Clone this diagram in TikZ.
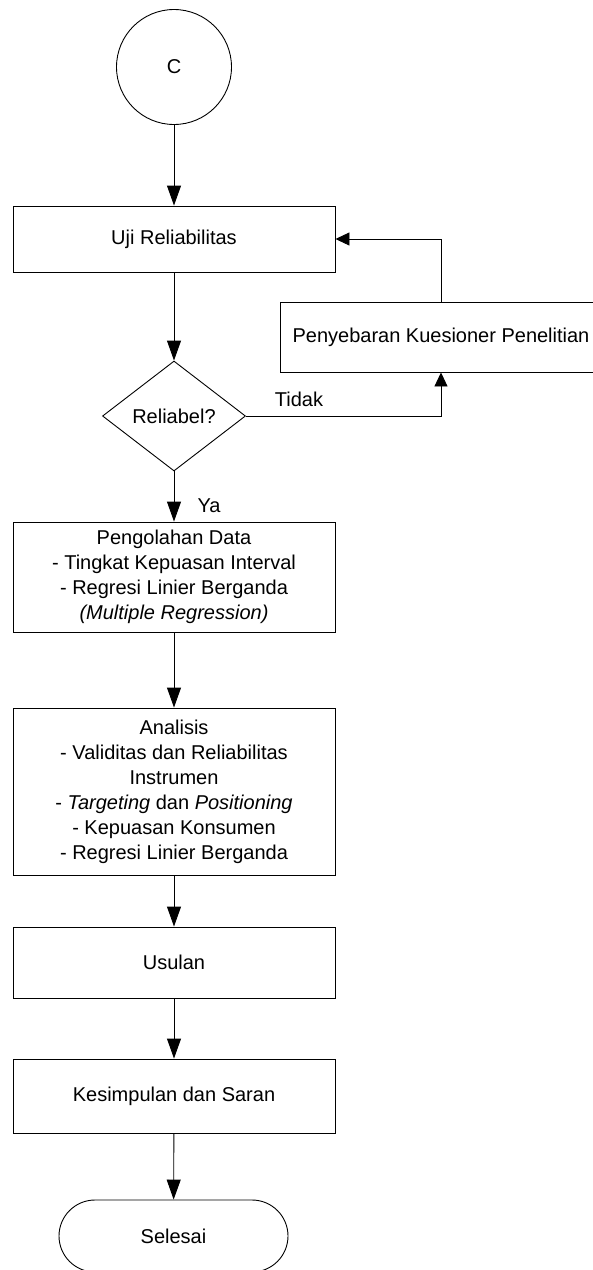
\documentclass[tikz,border=0pt]{standalone}
\usepackage{fontspec}
\setmainfont{Liberation Sans}
\usetikzlibrary{shapes.geometric,arrows.meta}

\begin{document}
\begin{tikzpicture}[
  x=1pt, y=-1pt,
  every node/.style={inner sep=1pt, font=\fontsize{20}{25}\selectfont},
  proc/.style={draw, line width=0.9pt, minimum width=322pt, align=center},
  decide/.style={diamond, draw, line width=0.9pt, minimum width=143pt, minimum height=110pt, inner sep=0pt},
  conn/.style={circle, draw, line width=0.9pt, minimum size=115pt},
  term/.style={draw, line width=0.9pt, rounded corners=36pt, minimum width=229pt, minimum height=72pt},
  arrow/.style={draw, line width=0.9pt, -{Triangle[length=20pt, width=14pt]}},
  farrow/.style={draw, line width=0.9pt, -{Triangle[length=14pt, width=13pt]}}]

  \useasboundingbox (0,0) rectangle (593,1270);

  % ---- nodes --------------------------------------------------------------
  \node[conn] (C) at (174,67) {C};
  \node[proc, minimum height=66pt] (uji) at (174,239) {Uji Reliabilitas};
  \node[proc, minimum height=70pt] (sebar) at (441,337) {Penyebaran Kuesioner Penelitian};
  \node[decide] (rel) at (174,416) {Reliabel?};
  \node[proc, minimum height=110pt] (olah) at (174,577)
    {Pengolahan Data\\- Tingkat Kepuasan Interval\\- Regresi Linier Berganda\\\textit{(Multiple Regression)}};
  \node[proc, minimum height=167pt] (anls) at (174,791.5)
    {Analisis\\- Validitas dan Reliabilitas\\Instrumen\\- \textit{Targeting} dan \textit{Positioning}\\- Kepuasan Konsumen\\- Regresi Linier Berganda};
  \node[proc, minimum height=71pt] (usul) at (174,962.5) {Usulan};
  \node[proc, minimum height=74pt] (simpul) at (174,1096) {Kesimpulan dan Saran};
  \node[term] (end) at (173.5,1236) {Selesai};

  % ---- labels -------------------------------------------------------------
  \node (tidak) at (299,399) {Tidak};
  \node (ya) at (209,506) {Ya};

  % ---- arrows -------------------------------------------------------------
  \draw[arrow] (C) -- (uji);
  \draw[arrow] (uji) -- (rel);
  \draw[farrow] (rel.east) -| (sebar.south);
  \draw[farrow] (sebar.north) |- (uji.east);
  \draw[arrow] (rel) -- (olah);
  \draw[arrow] (olah) -- (anls);
  \draw[arrow] (anls) -- (usul);
  \draw[arrow] (usul) -- (simpul);
  \draw[arrow] (simpul) -- (end);
\end{tikzpicture}
\end{document}
